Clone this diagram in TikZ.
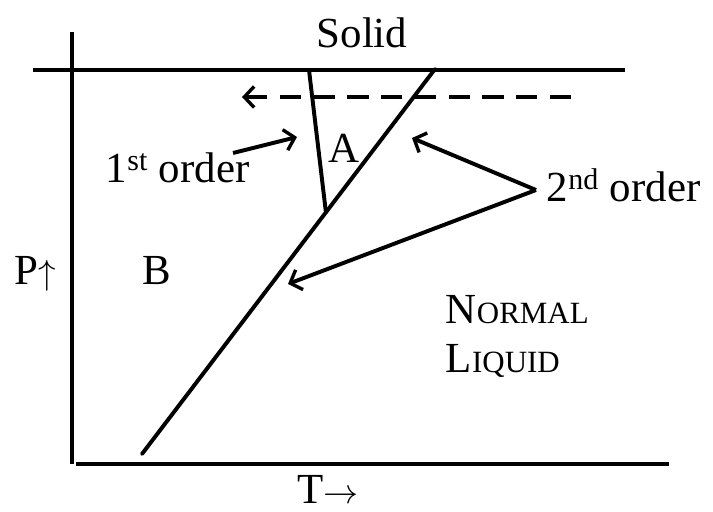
\documentclass[tikz,border=0pt]{standalone}
\usepackage{fontspec}
\setmainfont{Liberation Serif}
\usepackage{tikz}
\usetikzlibrary{arrows.meta, positioning}

\begin{document}
\begin{tikzpicture}[x=0.025cm, y=-0.025cm,
                    line width=2.8pt,
                    txt/.style={font=\fontsize{30.5}{36}\selectfont, anchor=base, inner sep=0pt},
                    pointer/.style={-{Straight Barb[length=7pt, width=15pt, line width=2.4pt]}}]
                \useasboundingbox (0,0) rectangle (713,512);
                % axes
                \coordinate (top) at (72,32);
                \coordinate (origin) at (72,464);
                \coordinate (tright) at (669,464);
                \coordinate (sleft) at (33,70);
                \coordinate (sright) at (625,70);
                \draw[line width=3.2pt] (top) -- (origin);
                \draw[line width=3.2pt] (origin) ++(4,0) -- (tright);
                \draw (sleft) -- (sright);
                % phase lines
                \coordinate (lambda0) at (142,454);
                \coordinate (lambda1) at (435,69);
                \coordinate (first0) at (309,70);
                \coordinate (triple) at (326,213);
                \draw[line cap=round] (lambda0) -- (lambda1);
                \draw (first0) -- (triple);
                \coordinate (dashend) at (571,97);
                \coordinate (dashtip) at (242,97);
                \draw[pointer, dash pattern=on 15pt off 9pt] (dashend) -- (dashtip);
                % labels
                \node[txt] (solid) at (362,48) {Solid};
                \node[txt] (a) at (344,163) {A};
                \node[txt] (b) at (157,285) {B};
                \node[txt, anchor=base west] (p) at (13,285) {P$\uparrow$};
                \node[txt] (t) at (328,503) {T$\rightarrow$};
                \node[txt, anchor=base west] (first) at (104,183) {1\textsuperscript{st} order};
                \node[txt, anchor=base west] (second) at (545,202) {2\textsuperscript{nd} order};
                \node[txt, anchor=base west] (normal) at (444,323) {N{\fontsize{22}{26}\selectfont ORMAL}};
                \node[txt, anchor=base west] (liquid) at (444,373) {L{\fontsize{22}{26}\selectfont IQUID}};
                % pointers
                \coordinate (fromfirst) at (233,153);
                \coordinate (tofirst) at (297,137);
                \coordinate (fork) at (536,190);
                \coordinate (toupper) at (412,138);
                \coordinate (tolower) at (288,284);
                \draw[pointer] (fromfirst) -- (tofirst);
                \draw[pointer] (fork) -- (toupper);
                \draw[pointer] (fork) -- (tolower);
            \end{tikzpicture}
\end{document}
